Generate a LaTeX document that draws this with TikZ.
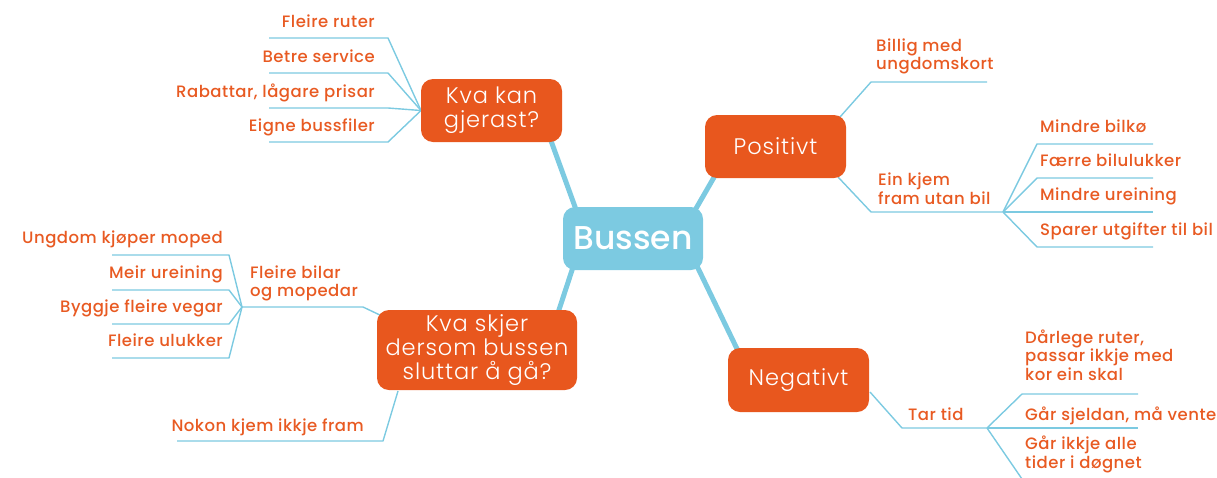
\documentclass[tikz,border=0pt]{standalone}
\usepackage{fontspec}
\setmainfont{Poppins}
\newfontfamily\labf{Poppins Medium}[LetterSpace=3]
\newfontfamily\boxf{Poppins Light}[LetterSpace=4]
\newfontfamily\hubf{Poppins Medium}
\usetikzlibrary{backgrounds}
\definecolor{borange}{HTML}{E8571E}
\definecolor{torange}{HTML}{E85A22}
\definecolor{lblue}{HTML}{7CCAE1}
\tikzset{
  mainbox/.style={fill=borange, text=white, rounded corners=12pt, inner sep=0pt, align=center,
    font=\boxf\fontsize{22.5}{24}\selectfont},
  hubbox/.style={fill=lblue, text=white, rounded corners=12pt, inner sep=0pt,
    font=\hubf\fontsize{33}{36}\selectfont},
  lab/.style={inner sep=0pt, text=torange, font=\labf\fontsize{16.5}{18}\selectfont},
  thick link/.style={draw=lblue, line width=5pt, shorten <=-10pt, shorten >=-10pt},
  thin link/.style={draw=lblue, line width=1.4pt, line join=round},
}
\newcommand{\ml}[1]{\begin{tabular}[b]{@{}l@{}}#1\end{tabular}}
\begin{document}
\begin{tikzpicture}[x=1pt,y=-1pt]
\useasboundingbox (0,0) rectangle (1217,477);
\clip (0,0) rectangle (1217,477);
% main boxes
\node[hubbox, minimum width=140pt, minimum height=63pt] (bus) at (633,238.5) {Bussen};
\node[mainbox, minimum width=141pt, minimum height=63pt] (kan) at (491.5,110.5) {Kva kan\\gjerast?};
\node[mainbox, minimum width=141pt, minimum height=63pt] (pos) at (775.5,146.5) {Positivt};
\node[mainbox, minimum width=141pt, minimum height=64pt] (neg) at (798.5,380) {Negativt};
\node[mainbox, minimum width=200pt, minimum height=80pt] (skj) at (477,350) {Kva skjer\\dersom bussen\\sluttar å gå?};

% coordinates: Kva kan branch
\coordinate (k0) at (421,110.5);
\foreach \i/\y in {1/38,2/73,3/108,4/142}{
  \coordinate (kr\i) at (388,\y);
  \coordinate (kl\i) at (269,\y);
}
\node[lab, anchor=base east] (kt1) at (375,27.5) {Fleire ruter};
\node[lab, anchor=base east] (kt2) at (375,62.5) {Betre service};
\node[lab, anchor=base east] (kt3) at (375,97.5) {Rabattar, lågare prisar};
\node[lab, anchor=base east] (kt4) at (375,131.5) {Eigne bussfiler};

% Positivt branch
\coordinate (p1a) at (840,117);
\coordinate (p1b) at (871,82);
\coordinate (p1c) at (987,82);
\coordinate (p2a) at (838,177);
\coordinate (p2b) at (871,212);
\coordinate (p2c) at (1003,212);
\foreach \i/\y in {1/144,2/178,4/247}{
  \coordinate (pm\i) at (1037,\y);
  \coordinate (pe\i) at (1153,\y);
}
\coordinate (pe3) at (1153,212);
\node[lab, anchor=base west] (pt0) at (876,69) {\ml{Billig med\\ungdomskort}};
\node[lab, anchor=base west] (pt00) at (878,204) {\ml{Ein kjem\\fram utan bil}};
\node[lab, anchor=base west] (pt1) at (1040,132) {Mindre bilkø};
\node[lab, anchor=base west] (pt2) at (1040,166) {Færre bilulukker};
\node[lab, anchor=base west] (pt3) at (1040,200) {Mindre ureining};
\node[lab, anchor=base west] (pt4) at (1040,235) {Sparer utgifter til bil};

% Negativt branch
\coordinate (n1a) at (870,392);
\coordinate (n1b) at (902,428);
\coordinate (n1c) at (987,428);
\coordinate (nm1) at (1022,394);
\coordinate (ne1) at (1138,394);
\coordinate (ne2) at (1138,428);
\coordinate (nm3) at (1022,479);
\coordinate (ne3) at (1138,479);
\node[lab, anchor=base west] (nt0) at (908,420) {Tar tid};
\node[lab, anchor=base west] (nt1) at (1025,380) {\ml{Dårlege ruter,\\passar ikkje med\\kor ein skal}};
\node[lab, anchor=base west] (nt2) at (1025,420) {Går sjeldan, må vente};
\node[lab, anchor=base west] (nt3) at (1025,468) {\ml{Går ikkje alle\\tider i døgnet}};

% Kva skjer branch
\coordinate (s1a) at (382,316);
\coordinate (s1b) at (363,307);
\coordinate (s1c) at (242,307);
\foreach \i/\y in {1/255,2/290,3/324,4/358}{
  \coordinate (sm\i) at (229,\y);
  \coordinate (se\i) at (112,\y);
}
\coordinate (s2a) at (398,391);
\coordinate (s2b) at (383,441);
\coordinate (s2c) at (177,441);
\node[lab, anchor=base west] (st0) at (250,296) {\ml{Fleire bilar\\og mopedar}};
\node[lab, anchor=base east] (st1) at (223,243) {Ungdom kjøper moped};
\node[lab, anchor=base east] (st2) at (223,278) {Meir ureining};
\node[lab, anchor=base east] (st3) at (223,312) {Byggje fleire vegar};
\node[lab, anchor=base east] (st4) at (223,346) {Fleire ulukker};
\node[lab, anchor=base east] (st5) at (364,431) {Nokon kjem ikkje fram};

\begin{scope}[on background layer]
  \draw[thick link] ([xshift=60pt]kan.south) -- ([xshift=-58pt]bus.north);
  \draw[thick link] ([xshift=-62pt]pos.south) -- ([xshift=64pt]bus.north);
  \draw[thick link] ([xshift=-62pt]neg.north) -- ([xshift=66pt]bus.south);
  \draw[thick link] ([xshift=82pt]skj.north) -- ([xshift=-61pt]bus.south);
  \foreach \i in {1,2,3,4}{
    \draw[thin link] (k0) -- (kr\i) -- (kl\i);
  }
  \draw[thin link] (p1a) -- (p1b) -- (p1c);
  \draw[thin link] (p2a) -- (p2b) -- (p2c);
  \foreach \i in {1,2,4}{
    \draw[thin link] (p2c) -- (pm\i) -- (pe\i);
  }
  \draw[thin link] (p2c) -- (pe3);
  \draw[thin link] (n1a) -- (n1b) -- (n1c);
  \draw[thin link] (n1c) -- (nm1) -- (ne1);
  \draw[thin link] (n1c) -- (ne2);
  \draw[thin link] (n1c) -- (nm3) -- (ne3);
  \draw[thin link] (s1a) -- (s1b) -- (s1c);
  \foreach \i in {1,2,3,4}{
    \draw[thin link] (s1c) -- (sm\i) -- (se\i);
  }
  \draw[thin link] (s2a) -- (s2b) -- (s2c);
\end{scope}
\end{tikzpicture}
\end{document}
